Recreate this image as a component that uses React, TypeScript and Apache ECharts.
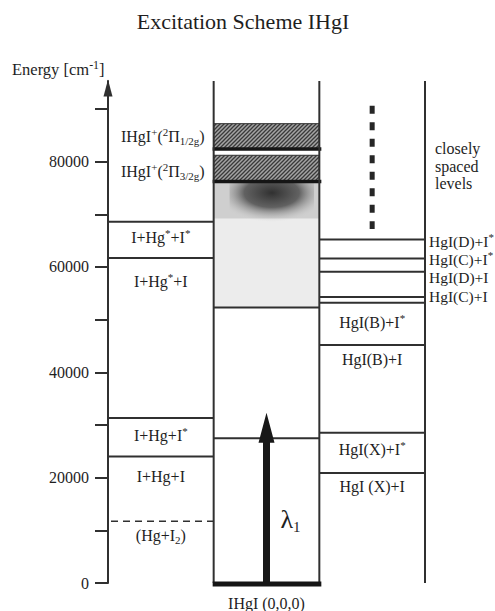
import React, { useEffect, useRef } from 'react';
import * as echarts from 'echarts';

// ---------- data ----------
const yMax = 95300;
const yTickValues = [0, 10000, 20000, 30000, 40000, 50000, 60000, 70000, 80000, 90000];
const yLabelValues = [0, 20000, 40000, 60000, 80000];

const ionBandTops = [87200, 81200];
const ionBandBottoms = [82400, 76200];
const ionLabels = ['IHgI{sup|+}({sup|2}Π{sub|1/2g})', 'IHgI{sup|+}({sup|2}Π{sub|3/2g})'];

const leftLevels = [68600, 61700, 31300, 24000];
const leftLabels = ['I+Hg{sup|*}+I{sup|*}', 'I+Hg{sup|*}+I', 'I+Hg+I{sup|*}', 'I+Hg+I'];
const dissociationLevel = 11700;
const dissociationLabel = '(Hg+I{sub|2})';

const continuumBottom = 52300;
const continuumDenseBottom = 69200;
const continuumTop = 76200;
const middleLevels = [52300, 27500];
const groundLevel = 0;
const groundLabel = 'IHgI (0,0,0)';
const excitationEnergy = 32300;
const excitationLabel = 'λ{lsub|1}';

const rightLevels = [65200, 61600, 59100, 54300, 53200, 45200, 28500, 20900];
const rightOuterLabels = ['HgI(D)+I{sup|*}', 'HgI(C)+I{sup|*}', 'HgI(D)+I', 'HgI(C)+I'];
const rightInnerLabels = ['HgI(B)+I{sup|*}', 'HgI(B)+I', 'HgI(X)+I{sup|*}', 'HgI (X)+I'];
const closelySpacedRange = [67200, 90600];
const closelySpacedLabel = 'closely\nspaced\nlevels';

// ---------- styles ----------
const FONT = 'Liberation Serif';
const INK = '#1e1e1e';
const LINE = '#303030';
const RICH: any = {
  sup: { fontSize: 11, lineHeight: 10, verticalAlign: 'top', fontFamily: FONT, fill: INK },
  sub: { fontSize: 11, lineHeight: 10, verticalAlign: 'bottom', fontFamily: FONT, fill: INK },
  lsub: { fontSize: 15, lineHeight: 12, verticalAlign: 'bottom', fontFamily: FONT, fill: INK },
};

const leftLabelDy = [16, 24, 17, 20];
const rightOuterDy = [2, 1, 6, 0];
const rightInnerDy = [20, 15, 17, 14];
const ionLabelDy = [0, 3];

export default function App() {
  const ref = useRef<HTMLDivElement>(null);

  useEffect(() => {
    if (!ref.current) return;
    const chart = echarts.init(ref.current, null, { renderer: 'svg' });

    // hatch pattern
    const c = document.createElement('canvas');
    c.width = 4;
    c.height = 4;
    const ctx = c.getContext('2d')!;
    ctx.fillStyle = '#a4a4a4';
    ctx.fillRect(0, 0, 4, 4);
    ctx.strokeStyle = '#3a3a3a';
    ctx.lineWidth = 1.3;
    ctx.beginPath();
    ctx.moveTo(0, 4); ctx.lineTo(4, 0);
    ctx.moveTo(-1, 1); ctx.lineTo(1, -1);
    ctx.moveTo(3, 5); ctx.lineTo(5, 3);
    ctx.stroke();
    const hatch: any = { image: c, repeat: 'repeat', imageWidth: 4, imageHeight: 4 };

    // label specs
    type L = { x: number; e: number; text: string; align: string; dx: number; dy: number; lh?: number; size?: number };
    const labels: L[] = [];
    ionLabels.forEach((t, i) =>
      labels.push({ x: 0.5, e: (ionBandTops[i] + ionBandBottoms[i]) / 2, text: t, align: 'center', dx: 2, dy: ionLabelDy[i] })
    );
    leftLabels.forEach((t, i) => labels.push({ x: 0.5, e: leftLevels[i], text: t, align: 'center', dx: 0, dy: leftLabelDy[i] }));
    labels.push({ x: 0.5, e: dissociationLevel, text: dissociationLabel, align: 'center', dx: 0, dy: 14 });
    rightOuterLabels.forEach((t, i) =>
      labels.push({ x: 3, e: rightLevels[i], text: t, align: 'left', dx: 4, dy: rightOuterDy[i], size: 15.5 })
    );
    rightInnerLabels.forEach((t, i) =>
      labels.push({ x: 2.5, e: rightLevels[i + 4], text: t, align: 'center', dx: 0, dy: rightInnerDy[i] })
    );
    labels.push({ x: 3, e: (closelySpacedRange[0] + closelySpacedRange[1]) / 2 + 200, text: closelySpacedLabel, align: 'left', dx: 10, dy: 0, lh: 17.5 });
    labels.push({ x: 1.5, e: groundLevel, text: groundLabel, align: 'center', dx: 0, dy: 20 });
    labels.push({ x: 1.5, e: groundLevel, text: excitationLabel, align: 'center', dx: 24, dy: -64, size: 26, lh: 30 });

    const levelData = [
      ...leftLevels.map((e) => [0, 1, e]),
      ...middleLevels.map((e) => [1, 2, e]),
      ...rightLevels.map((e) => [2, 3, e]),
    ];

    const option: any = {
      animation: false,
      backgroundColor: '#ffffff',
      grid: { left: 108, right: 70, top: 81, bottom: 28 },
      xAxis: { type: 'value', min: 0, max: 3, show: false },
      yAxis: {
        type: 'value',
        min: 0,
        max: yMax,
        interval: 10000,
        splitLine: { show: false },
        axisLine: {
          show: true,
          lineStyle: { color: LINE, width: 2 },
          symbol: ['none', 'triangle'],
          symbolSize: [9, 17],
          symbolOffset: [0, -7],
        },
        axisTick: { show: true, length: 13, lineStyle: { color: LINE, width: 2 }, customValues: yTickValues },
        axisLabel: {
          show: true,
          margin: 19,
          fontFamily: FONT,
          fontSize: 16,
          color: INK,
          customValues: yLabelValues,
          formatter: (v: number) => String(v),
        },
      },
      graphic: [
        {
          type: 'text',
          x: 243,
          y: 21,
          style: { text: 'Excitation Scheme IHgI', font: '22px "Liberation Serif"', fill: INK, align: 'center', verticalAlign: 'middle' },
        },
        {
          type: 'text',
          x: 12,
          y: 69,
          style: {
            text: 'Energy [cm{sup|-1}]',
            rich: { sup: { font: '12px "Liberation Serif"', lineHeight: 10, verticalAlign: 'top', fill: INK } },
            font: '16.5px "Liberation Serif"',
            lineHeight: 20,
            fill: INK,
            align: 'left',
            verticalAlign: 'middle',
          },
        },
      ],
      series: [
        // continuum (gray region)
        {
          type: 'custom',
          silent: true,
          data: [[1, 2, continuumBottom, continuumDenseBottom, continuumTop]],
          renderItem: (params: any, api: any) => {
            const pBL = api.coord([api.value(0), api.value(2)]);
            const pTR = api.coord([api.value(1), api.value(4)]);
            const pDense = api.coord([api.value(0), api.value(3)]);
            const bx0 = api.coord([1.15, api.value(3) - 1500]);
            const bx1 = api.coord([1.95, api.value(4)]);
            return {
              type: 'group',
              children: [
                { type: 'rect', shape: { x: pBL[0], y: pTR[1], width: pTR[0] - pBL[0], height: pBL[1] - pTR[1] }, style: { fill: '#ececec' } },
                { type: 'rect', shape: { x: pBL[0], y: pTR[1], width: pTR[0] - pBL[0], height: pDense[1] - pTR[1] }, style: { fill: '#cfcfcf' } },
                {
                  type: 'rect',
                  shape: { x: bx0[0], y: bx1[1], width: bx1[0] - bx0[0], height: bx0[1] - bx1[1] },
                  style: {
                    fill: {
                      type: 'radial', x: 0.5, y: 0.25, r: 0.65,
                      colorStops: [
                        { offset: 0, color: 'rgba(40,40,40,0.95)' },
                        { offset: 0.5, color: 'rgba(70,70,70,0.8)' },
                        { offset: 0.78, color: 'rgba(140,140,140,0.35)' },
                        { offset: 1, color: 'rgba(205,205,205,0)' },
                      ],
                    },
                  },
                },
              ],
            };
          },
        },
        // ion hatched bands
        {
          type: 'custom',
          silent: true,
          data: ionBandTops.map((t, i) => [1, 2, ionBandBottoms[i], t]),
          renderItem: (params: any, api: any) => {
            const pBL = api.coord([api.value(0), api.value(2)]);
            const pTR = api.coord([api.value(1), api.value(3)]);
            return {
              type: 'group',
              children: [
                { type: 'rect', shape: { x: pBL[0], y: pTR[1], width: pTR[0] - pBL[0], height: pBL[1] - pTR[1] }, style: { fill: hatch, stroke: LINE, lineWidth: 1 } },
                { type: 'line', shape: { x1: pBL[0] - 1, y1: pBL[1], x2: pTR[0] + 2, y2: pBL[1] }, style: { stroke: '#151515', lineWidth: 3.5 } },
              ],
            };
          },
        },
        // column verticals
        {
          type: 'custom',
          silent: true,
          data: [[1], [2], [3]],
          renderItem: (params: any, api: any) => {
            const p0 = api.coord([api.value(0), 0]);
            const p1 = api.coord([api.value(0), yMax]);
            return { type: 'line', shape: { x1: p0[0], y1: p0[1], x2: p1[0], y2: p1[1] }, style: { stroke: LINE, lineWidth: 2 } };
          },
        },
        // energy levels
        {
          type: 'custom',
          silent: true,
          data: levelData,
          renderItem: (params: any, api: any) => {
            const p0 = api.coord([api.value(0), api.value(2)]);
            const p1 = api.coord([api.value(1), api.value(2)]);
            return { type: 'line', shape: { x1: p0[0], y1: p0[1], x2: p1[0], y2: p1[1] }, style: { stroke: LINE, lineWidth: 2 } };
          },
        },
        // dissociation (dashed)
        {
          type: 'custom',
          silent: true,
          data: [[0, 1, dissociationLevel]],
          renderItem: (params: any, api: any) => {
            const p0 = api.coord([api.value(0), api.value(2)]);
            const p1 = api.coord([api.value(1), api.value(2)]);
            return { type: 'line', shape: { x1: p0[0] + 3, y1: p0[1], x2: p1[0], y2: p1[1] }, style: { stroke: LINE, lineWidth: 1.5, lineDash: [7, 5] } };
          },
        },
        // excitation arrow
        {
          type: 'custom',
          silent: true,
          data: [[1.5, groundLevel, excitationEnergy]],
          renderItem: (params: any, api: any) => {
            const b = api.coord([api.value(0), api.value(1)]);
            const t = api.coord([api.value(0), api.value(2)]);
            const cx = b[0];
            const hb = t[1] + 30;
            return {
              type: 'polygon',
              shape: {
                points: [
                  [cx - 3.5, b[1]], [cx - 3.5, hb], [cx - 8, hb], [cx, t[1]], [cx + 8, hb], [cx + 3.5, hb], [cx + 3.5, b[1]],
                ],
              },
              style: { fill: '#181818' },
            };
          },
        },
        // ground state (thick)
        {
          type: 'custom',
          silent: true,
          data: [[1, 2, groundLevel]],
          renderItem: (params: any, api: any) => {
            const p0 = api.coord([api.value(0), api.value(2)]);
            const p1 = api.coord([api.value(1), api.value(2)]);
            return { type: 'line', shape: { x1: p0[0] - 1, y1: p0[1] + 1, x2: p1[0] + 2, y2: p1[1] + 1 }, style: { stroke: '#151515', lineWidth: 5 } };
          },
        },
        // closely spaced levels (dotted)
        {
          type: 'custom',
          silent: true,
          data: [[2.5, closelySpacedRange[0], closelySpacedRange[1]]],
          renderItem: (params: any, api: any) => {
            const p0 = api.coord([api.value(0), api.value(2)]);
            const p1 = api.coord([api.value(0), api.value(1)]);
            return { type: 'line', shape: { x1: p0[0], y1: p0[1], x2: p1[0], y2: p1[1] }, style: { stroke: '#262626', lineWidth: 5, lineDash: [8, 8.5] } };
          },
        },
        // labels
        {
          type: 'custom',
          silent: true,
          data: labels.map((l) => [l.x, l.e]),
          renderItem: (params: any, api: any) => {
            const l = labels[params.dataIndex];
            const p = api.coord([l.x, l.e]);
            return {
              type: 'text',
              x: p[0] + l.dx,
              y: p[1] + l.dy,
              style: {
                text: l.text,
                rich: RICH,
                fontFamily: FONT,
                fontSize: l.size || 16,
                lineHeight: l.lh || 20,
                fill: INK,
                align: l.align,
                verticalAlign: 'middle',
              },
            };
          },
        },
      ],
    };

    chart.setOption(option);
    return () => chart.dispose();
  }, []);

  return <div ref={ref} style={{ position: 'fixed', left: 0, top: 0, width: 495, height: 611 }} />;
}
